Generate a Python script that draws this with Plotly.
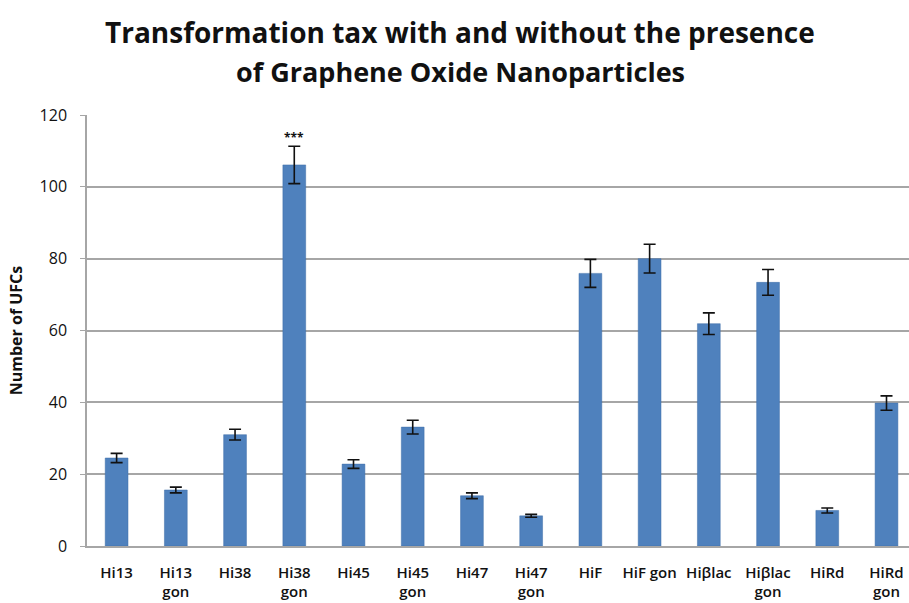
import plotly.graph_objects as go

# Strains and their colony counts (mean ± error)
strains = ["Hi13", "Hi13<br>gon", "Hi38", "Hi38<br>gon", "Hi45", "Hi45<br>gon",
           "Hi47", "Hi47<br>gon", "HiF", "HiF gon", "Hiβlac", "Hiβlac<br>gon",
           "HiRd", "HiRd<br>gon"]
ufc_counts = [24.5, 15.6, 31.0, 106.1, 22.8, 33.1, 14.0, 8.4, 75.9, 80.0, 61.9, 73.4, 9.9, 39.8]
ufc_errors = [1.3, 0.8, 1.5, 5.2, 1.2, 1.9, 0.8, 0.4, 3.9, 4.0, 3.0, 3.6, 0.7, 2.0]
y_ticks = [0, 20, 40, 60, 80, 100, 120]
title_lines = ["Transformation tax with and without the presence",
               "of Graphene Oxide Nanoparticles"]

bar_color = "#4F81BD"
grid_color = "#A6A6A6"
font_family = "Open Sans, Liberation Sans, sans-serif"

fig = go.Figure()
fig.add_trace(go.Bar(
    x=list(range(len(strains))),
    y=ufc_counts,
    width=0.385,
    marker=dict(color=bar_color, line=dict(color="#3F6FA8", width=0.5)),
    error_y=dict(type="data", array=ufc_errors, visible=True,
                 color="#111111", thickness=1.6, width=6),
    showlegend=False,
))

# Significance marker above the tallest bar
peak = ufc_counts.index(max(ufc_counts))
fig.add_annotation(x=peak, y=ufc_counts[peak] + ufc_errors[peak], text="<b>***</b>",
                   showarrow=False, yanchor="bottom", yshift=-2,
                   font=dict(family=font_family, size=12, color="#111111"))

# Two-line title, each line placed on its own
for line, ypos, size in zip(title_lines, [1.1926, 1.0998], [28, 27]):
    fig.add_annotation(xref="paper", yref="paper", x=0.454, y=ypos,
                       xanchor="center", yanchor="middle", showarrow=False,
                       text=f"<b>{line}</b>",
                       font=dict(family=font_family, size=size, color="#111111"))

fig.update_layout(
    width=909, height=603,
    margin=dict(l=87, r=0, t=115, b=57),
    paper_bgcolor="white", plot_bgcolor="white",
    bargap=0.6,
    xaxis=dict(
        tickmode="array", tickvals=list(range(len(strains))), ticktext=strains,
        range=[-0.5, 13.38],
        showline=True, linecolor=grid_color, linewidth=1.5,
        showgrid=False, ticks="",
        ticklabelstandoff=12,
        tickfont=dict(family=font_family, size=15, color="#111111", weight=600),
        tickangle=0,
    ),
    yaxis=dict(
        range=[0, 120], tickvals=y_ticks,
        showline=True, linecolor=grid_color, linewidth=1.5,
        showgrid=True, gridcolor=grid_color, gridwidth=1.5,
        ticks="outside", ticklen=5, tickcolor=grid_color,
        ticklabelstandoff=10,
        tickfont=dict(family=font_family, size=16, color="#111111"),
        title=dict(text="Number of UFCs", standoff=13,
                   font=dict(family=font_family, size=16, color="#111111", weight="bold")),
        zeroline=False,
    ),
)

fig.write_html("out.html")
